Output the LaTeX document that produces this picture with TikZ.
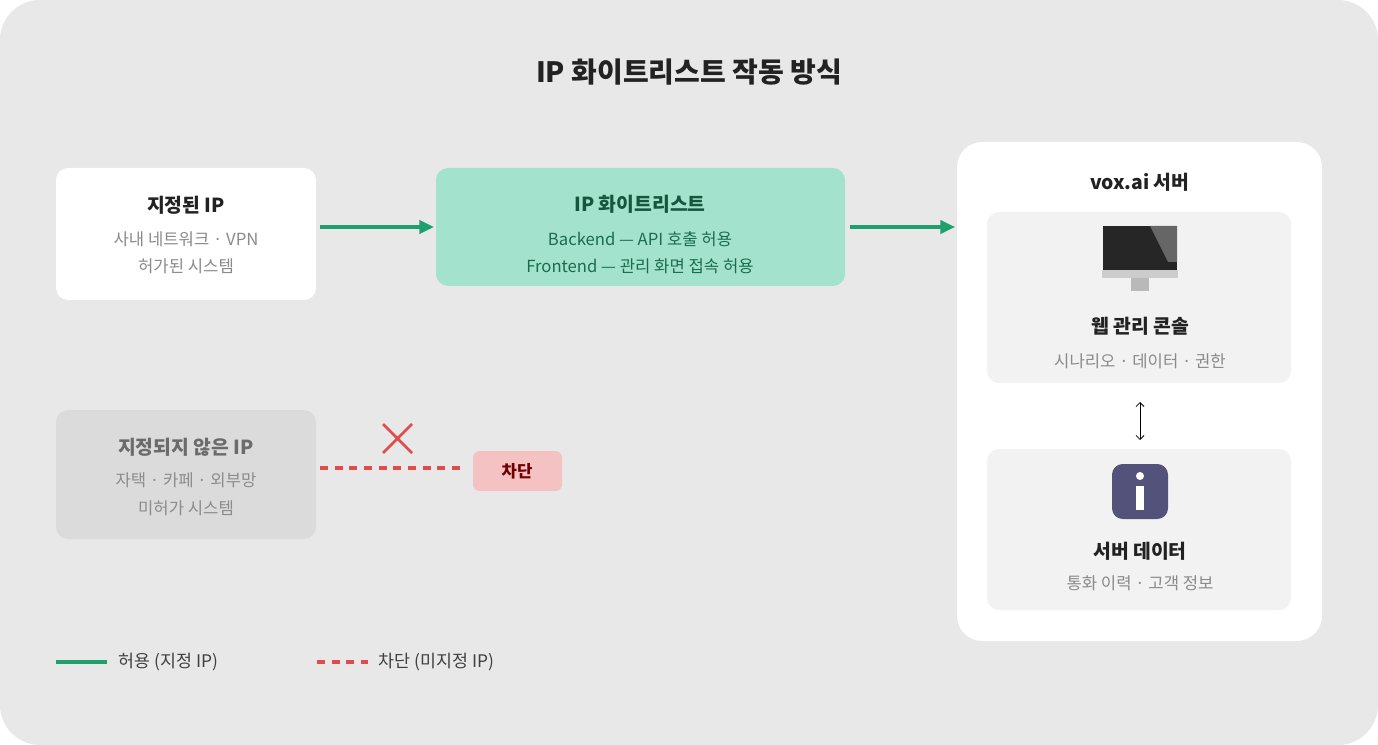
\documentclass[tikz,border=0pt]{standalone}
\usepackage{fontspec}
\setmainfont{Noto Sans CJK KR}
\usetikzlibrary{arrows.meta}
\definecolor{bg}{HTML}{E8E8E8}
\definecolor{grn}{HTML}{1F9E6E}
\definecolor{mint}{HTML}{A3E3CD}
\definecolor{dgrn}{HTML}{1D6B4E}
\definecolor{redd}{HTML}{E04B4B}
\definecolor{pinkb}{HTML}{F4C2C2}
\definecolor{panel}{HTML}{F2F2F2}
\definecolor{txt}{HTML}{222222}
\definecolor{sub}{HTML}{8A8A8A}
\tikzset{
 box/.style={rounded corners=9pt,draw=none},
 ttl/.style={font=\bfseries\fontsize{14.5}{16}\selectfont,text=txt},
 st/.style={font=\fontsize{12.5}{14}\selectfont,text=sub},
 ok/.style={grn,line width=2.3pt,-{Triangle[length=11pt,width=10pt]}},
 no/.style={redd,line width=2.3pt,dash pattern=on 6pt off 5pt},
}
\begin{document}
\begin{tikzpicture}[x=0.75pt,y=-0.75pt]
\useasboundingbox (0,0) rectangle (1378,745);
\fill[bg,rounded corners=30pt] (0,0) rectangle (1378,745);
\node[font=\bfseries\fontsize{21}{24}\selectfont,text=txt] (title) at (689,72) {IP 화이트리스트 작동 방식};
% node A
\fill[box,white] (56,168) rectangle (316,300);
\node[ttl] (a) at (186,205) {지정된 IP};
\node[st] (a1) at (186,239) {사내 네트워크 · VPN};
\node[st] (a2) at (186,266) {허가된 시스템};
\coordinate (aR) at (320,227);
% node B
\fill[box,mint] (436,168) rectangle (845,286);
\node[ttl,text=dgrn!80!black] (b) at (640,204) {IP 화이트리스트};
\node[st,text=dgrn] (b1) at (640,239) {Backend — API 호출 허용};
\node[st,text=dgrn] (b2) at (640,266) {Frontend — 관리 화면 접속 허용};
\coordinate (bL) at (434,227);
\coordinate (bR) at (850,227);
\coordinate (sL) at (955,227);
\draw[ok] (aR) -- (bL);
\draw[ok] (bR) -- (sL);
% server
\fill[white,rounded corners=19pt] (957,142) rectangle (1322,641);
\node[ttl] (s) at (1140,182) {vox.ai 서버};
\fill[box,panel] (987,212) rectangle (1291,383);
\fill[box,panel] (987,449) rectangle (1291,610);
% monitor
\fill[black!85] (1103,226) rectangle (1177,270);
\fill[black!60] (1150,226) -- (1177,226) -- (1177,262) -- (1168,262) -- cycle;
\fill[gray!40] (1102,270) rectangle (1178,278);
\fill[gray!55] (1131,278) rectangle (1149,291);
\node[ttl] (w) at (1140,326) {웹 관리 콘솔};
\node[st] (w1) at (1140,361) {시나리오 · 데이터 · 권한};
\coordinate (u) at (1140,402);
\coordinate (d) at (1140,440);
\draw[black,line width=0.6pt,{Straight Barb[length=3pt]}-{Straight Barb[length=3pt]}] (u) -- (d);
% info icon
\fill[blue!20!gray!80!black,rounded corners=8pt] (1112,464) rectangle (1168,519);
\fill[white] (1140,476) circle (4);
\fill[white] (1136,486) rectangle (1144,510);
\node[ttl] (v) at (1140,551) {서버 데이터};
\node[st] (v1) at (1140,583) {통화 이력 · 고객 정보};
% node C
\fill[box,black!14] (56,410) rectangle (316,539);
\node[ttl,text=black!58] (c) at (186,447) {지정되지 않은 IP};
\node[st,text=black!45] (c1) at (186,480) {자택 · 카페 · 외부망};
\node[st,text=black!45] (c2) at (186,508) {미허가 시스템};
\coordinate (cR) at (320,468);
\coordinate (k) at (462,468);
\draw[no] (cR) -- (k);
\draw[redd,line width=2pt] (383,424) -- (412,453) (412,424) -- (383,453);
\fill[box,pinkb,rounded corners=5pt] (473,451) rectangle (562,491);
\node[font=\bfseries\fontsize{12.5}{14}\selectfont,text=red!45!black] (x) at (517,471) {차단};
% legend
\coordinate (l1) at (56,662); \coordinate (l2) at (107,662);
\draw[grn,line width=2.3pt] (l1) -- (l2);
\node[anchor=west,font=\fontsize{13}{15}\selectfont,text=black!75] (lt1) at (114,662) {허용 (지정 IP)};
\coordinate (l3) at (317,662); \coordinate (l4) at (368,662);
\draw[no] (l3) -- (l4);
\node[anchor=west,font=\fontsize{13}{15}\selectfont,text=black!75] (lt2) at (374,662) {차단 (미지정 IP)};
\end{tikzpicture}
\end{document}
